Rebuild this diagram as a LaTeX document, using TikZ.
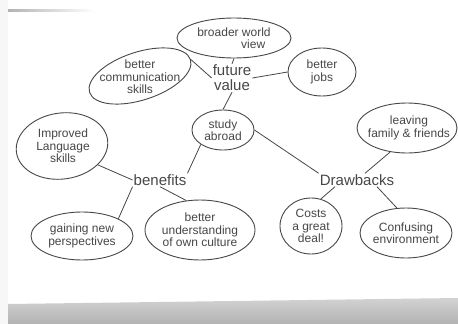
\documentclass[tikz,border=0pt]{standalone}
\usepackage{fontspec}
\setmainfont{Liberation Sans}
\usetikzlibrary{shapes.geometric}
\definecolor{ink}{gray}{0.28}
\tikzset{
  bubble/.style={ellipse, draw=ink, line width=0.9pt, inner sep=0pt},
  btext/.style={inner sep=0pt, align=center, text=ink, font=\fontsize{12}{12.5}\selectfont},
  word/.style={inner sep=1pt, align=center, text=ink, font=\fontsize{15}{15}\selectfont},
  link/.style={draw=ink, line width=0.8pt}
}
\begin{document}
\begin{tikzpicture}[x=1pt,y=-1pt]
\useasboundingbox (0,0) rectangle (458,324);
\fill[white] (0,0) rectangle (458,324);
% whiteboard frame bits
\shade[left color=gray!60, right color=white] (8,9) rectangle (95,11);
\fill[gray!6] (0,0) rectangle (8,324);
\shade[top color=gray!35, bottom color=gray!60] (8,304) -- (458,298) -- (458,324) -- (8,324) -- cycle;
% bubbles
\node[bubble, minimum width=114pt, minimum height=40pt] (world) at (234,38) {};
\node[btext] at (234,38) {broader world\\\hspace*{3.2em}view};
\node[bubble, minimum width=106pt, minimum height=48pt, rotate=18] (comm) at (140,76) {};
\node[btext] at (140,77) {better\\communication\\skills};
\node[word] (future) at (232,78) {future\\value};
\node[bubble, minimum width=68pt, minimum height=48pt] (jobs) at (322,72) {};
\node[btext] at (322,72) {better\\jobs};
\node[bubble, minimum width=62pt, minimum height=40pt] (study) at (223,130) {};
\node[btext] at (223,130) {study\\abroad};
\node[bubble, minimum width=92pt, minimum height=66pt, rotate=8] (lang) at (62,146) {};
\node[btext] at (63,146) {Improved\\Language\\skills};
\node[word] (benefits) at (160,180) {benefits};
\node[bubble, minimum width=100pt, minimum height=50pt] (family) at (407,128) {};
\node[btext] at (409,128) {leaving\\family \& friends};
\node[word] (draw) at (357,180) {Drawbacks};
\node[bubble, minimum width=102pt, minimum height=48pt] (gain) at (82,236) {};
\node[btext] at (82,236) {gaining new\\perspectives};
\node[bubble, minimum width=110pt, minimum height=60pt] (culture) at (200,230) {};
\node[btext] at (200,230) {better\\understanding\\of own culture};
\node[bubble, minimum width=62pt, minimum height=56pt] (costs) at (311,226) {};
\node[btext] at (311,226) {Costs\\a great\\deal!};
\node[bubble, minimum width=92pt, minimum height=50pt] (conf) at (406,233) {};
\node[btext] at (406,233) {Confusing\\environment};
% connectors
\path[link] (world.south) -- (future.north);
\path[link] (comm.east) -- (future.west);
\path[link] (future.east) -- (jobs.west);
\path[link] (future.south) -- (study.north);
\path[link] (study.south west) -- (benefits.north east);
\path[link] (study.east) -- (draw.north west);
\path[link] (lang.south east) -- (benefits.west);
\path[link] (benefits.south west) -- (gain.north east);
\path[link] (benefits.south) -- (culture.115);
\path[link] ([xshift=-22pt]draw.south) -- (costs.70);
\path[link] ([xshift=20pt]draw.south) -- (conf.110);
\path[link] ([xshift=8pt]draw.north) -- (family.235);
\end{tikzpicture}
\end{document}
